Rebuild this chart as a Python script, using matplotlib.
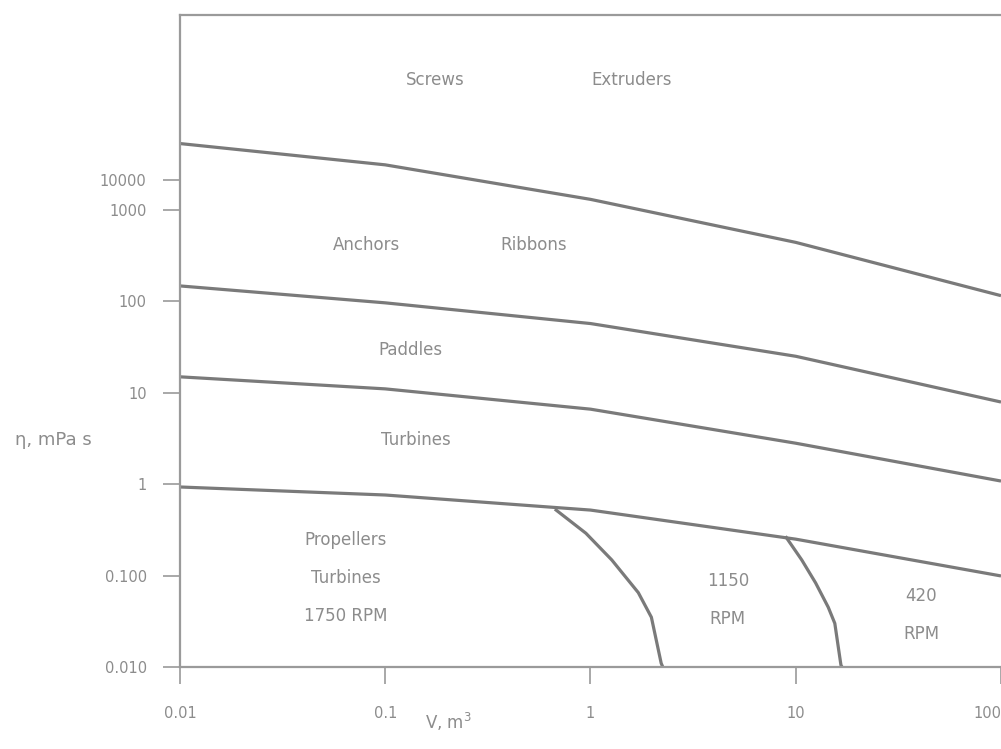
import matplotlib
matplotlib.use('Agg')
import matplotlib.pyplot as plt

# boundary curves, viscosity (mPa s) vs volume (m3)
vol = [0.01, 0.1, 1, 10, 100]
screws_anchors = [5300, 3100, 1300, 440, 115]
anchors_paddles = [147, 96, 57, 25, 7.9]
paddles_turbines = [14.9, 11.0, 6.6, 2.8, 1.08]
turbines_props = [0.93, 0.76, 0.52, 0.25, 0.099]

# speed limits of the propeller region
rpm1750_x = [0.68, 0.95, 1.27, 1.71, 1.98, 2.21, 2.25]
rpm1750_y = [0.52, 0.29, 0.148, 0.065, 0.035, 0.011, 0.01]
rpm1150_x = [9.0, 10.7, 12.5, 14.4, 15.5, 16.6, 16.8]
rpm1150_y = [0.26, 0.148, 0.083, 0.045, 0.030, 0.0105, 0.01]

xticks = [0.01, 0.1, 1, 10, 100]
xlabels = ['0.01', '0.1', '1', '10', '100']
yticks = [0.01, 0.1, 1, 10, 100, 1000, 2130]
ylabels = ['0.010', '0.100', '1', '10', '100', '1000', '10000']

regions = [('Screws', 0.175, 26500), ('Extruders', 1.59, 26500),
           ('Anchors', 0.081, 414), ('Ribbons', 0.53, 414),
           ('Paddles', 0.133, 29.4), ('Turbines', 0.141, 3.05),
           ('Propellers\nTurbines\n1750 RPM', 0.064, 0.094),
           ('1150\nRPM', 4.67, 0.054), ('420\nRPM', 40.9, 0.037)]

line_col = '#7a7a7a'
text_col = '#8c8c8c'

fig = plt.figure(figsize=(10.01, 7.49), dpi=100)
ax = fig.add_axes([0.1798, 0.1095, 0.8202, 0.8705])

for ys in [screws_anchors, anchors_paddles, paddles_turbines, turbines_props]:
    ax.plot(vol, ys, color=line_col, lw=2.3, solid_capstyle='butt')
ax.plot(rpm1750_x, rpm1750_y, color=line_col, lw=2.3)
ax.plot(rpm1150_x, rpm1150_y, color=line_col, lw=2.3)

ax.set_xscale('log')
ax.set_yscale('log')
ax.set_xlim(0.01, 100)
ax.set_ylim(0.01, 1.35e5)

ax.set_xticks(xticks)
ax.set_xticklabels(xlabels)
ax.set_yticks(yticks)
ax.set_yticklabels(ylabels)
ax.minorticks_off()
ax.tick_params(axis='both', colors='#999999', labelcolor=text_col, labelsize=10.5,
               length=12, width=1.2)
ax.tick_params(axis='x', pad=16)
ax.tick_params(axis='y', pad=12)
ax.get_xticklabels()[-1].set_horizontalalignment('right')

ax.spines['right'].set_visible(False)
for s in ['left', 'bottom', 'top']:
    ax.spines[s].set_color('#9a9a9a')
    ax.spines[s].set_linewidth(1.6)

for txt, x, y in regions:
    ax.text(x, y, txt, ha='center', va='center', color=text_col, fontsize=12,
            linespacing=2.4)

fig.text(15 / 1001, 1 - 440 / 749, 'η, mPa s', ha='left', va='center',
         color=text_col, fontsize=13)
fig.text(448 / 1001, 1 - 722 / 749, 'V, m$^3$', ha='center', va='center',
         color=text_col, fontsize=12)

fig.savefig('out.png', dpi=100)
